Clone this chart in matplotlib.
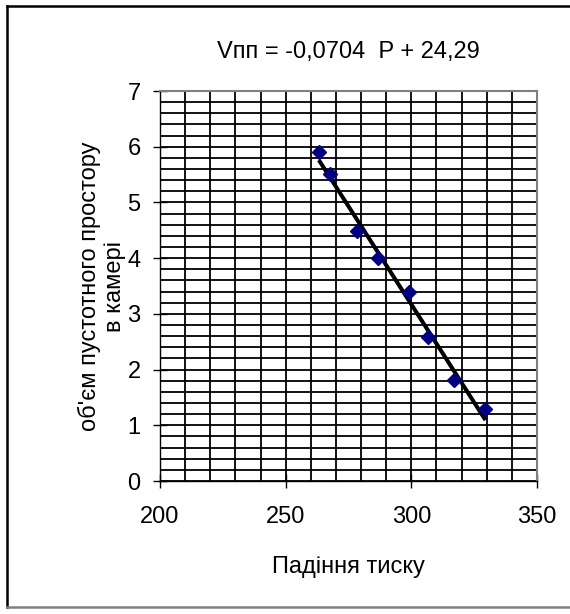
import matplotlib
matplotlib.use("Agg")
import matplotlib.pyplot as plt
from matplotlib.ticker import MultipleLocator
from matplotlib.lines import Line2D
import numpy as np

OUTPUT_IMAGE = "out.png"

# Data
pressure_drop = [263.2, 267.8, 278.2, 286.6, 299.1, 306.6, 316.9, 329.5]
void_volume = [5.91, 5.51, 4.49, 4.01, 3.39, 2.59, 1.81, 1.29]

# Trend line coefficients (from the chart caption)
slope = -0.0704
intercept = 24.29

title_text = "Vпп = -0,0704  P + 24,29"
x_label = "Падіння тиску"
y_label = "об'єм пустотного простору\nв камері"


def main():
    plt.rcParams['font.family'] = ['Liberation Sans', 'DejaVu Sans']

    fig = plt.figure(figsize=(5.7, 6.14), dpi=100)
    ax = fig.add_axes([160 / 570, 133 / 614, 377 / 570, 390 / 614])

    # grid every 10 on x and 0.2 on y
    ax.set_xlim(200, 350)
    ax.set_ylim(0, 7)
    ax.xaxis.set_major_locator(MultipleLocator(50))
    ax.xaxis.set_minor_locator(MultipleLocator(10))
    ax.yaxis.set_major_locator(MultipleLocator(1))
    ax.yaxis.set_minor_locator(MultipleLocator(0.2))
    ax.grid(which='both', color='black', linewidth=1.3)
    ax.set_axisbelow(True)

    ax.tick_params(which='major', direction='inout', length=10, width=1.0,
                   labelsize=17, colors='black')
    ax.tick_params(axis='x', which='major', pad=13)
    ax.tick_params(axis='y', which='major', pad=9)
    ax.tick_params(which='minor', length=0)

    for side in ['top', 'right']:
        ax.spines[side].set_color('#808080')
        ax.spines[side].set_linewidth(1.5)
    for side in ['left', 'bottom']:
        ax.spines[side].set_color('black')
        ax.spines[side].set_linewidth(1.0)

    # trend line over the data range
    xs = np.array([min(pressure_drop), max(pressure_drop)])
    ax.plot(xs, slope * xs + intercept, color='black', linewidth=2.9,
            solid_capstyle='butt', zorder=3)

    ax.plot(pressure_drop, void_volume, linestyle='none', marker='D',
            markersize=7.5, color='#000080', zorder=4)

    ax.set_title(title_text, fontsize=17, pad=24)
    ax.set_xlabel(x_label, fontsize=17, labelpad=20)
    ax.set_ylabel(y_label, fontsize=17, labelpad=1, linespacing=1.15)

    # chart border (left, top black; bottom gray)
    fig.add_artist(Line2D([7 / 570, 7 / 570], [1 - 607 / 614, 1 - 6 / 614],
                          color='black', linewidth=1.8, transform=fig.transFigure))
    fig.add_artist(Line2D([7 / 570, 1.0], [1 - 6 / 614, 1 - 6 / 614],
                          color='black', linewidth=1.8, transform=fig.transFigure))
    fig.add_artist(Line2D([7 / 570, 1.0], [1 - 607 / 614, 1 - 607 / 614],
                          color='#808080', linewidth=1.8, transform=fig.transFigure))

    plt.savefig(OUTPUT_IMAGE, dpi=100)


if __name__ == "__main__":
    main()
